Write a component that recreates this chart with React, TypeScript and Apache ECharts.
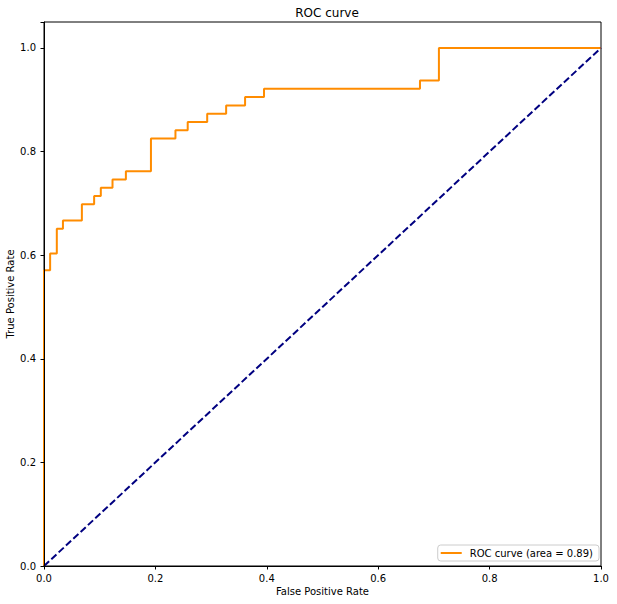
import React, { useEffect, useRef } from "react";
import * as echarts from "echarts";

const fpr = [0, 0, 0.011, 0.023, 0.034, 0.068, 0.09, 0.102, 0.123, 0.147, 0.192, 0.236, 0.258, 0.293, 0.327, 0.361, 0.395, 0.675, 0.709, 1.0];
const tpr = [0, 0.571, 0.603, 0.651, 0.667, 0.698, 0.714, 0.73, 0.746, 0.762, 0.825, 0.841, 0.857, 0.873, 0.889, 0.905, 0.921, 0.937, 1.0, 1.0];
const diagX = [0, 1];
const diagY = [0, 1];
const rocLabel = "ROC curve (area = 0.89)";
const titleText = "ROC curve";
const xName = "False Positive Rate";
const yName = "True Positive Rate";

const FONT = "DejaVu Sans";

export default function App() {
  const ref = useRef<HTMLDivElement>(null);
  useEffect(() => {
    if (!ref.current) return;
    const chart = echarts.init(ref.current, undefined, { renderer: "svg" });
    const axisCommon = {
      type: "value" as const,
      nameLocation: "middle" as const,
      nameMoveOverlap: false,
      nameTextStyle: { color: "#000", fontFamily: FONT, fontSize: 10 },
      z: 10,
      axisLine: { show: true, lineStyle: { color: "#000", width: 1 } },
      axisTick: { show: true, inside: false, length: 3.5, lineStyle: { color: "#000", width: 1 } },
      splitLine: { show: false },
      axisLabel: {
        color: "#000",
        fontFamily: FONT,
        fontSize: 10,
        margin: 7,
        formatter: (v: number) => (v > 1.001 ? "" : v.toFixed(1)),
      },
    };
    chart.setOption({
      animation: false,
      backgroundColor: "#fff",
      title: {
        text: titleText,
        left: 322,
        top: 2,
        textAlign: "center",
        textStyle: { fontFamily: FONT, fontSize: 12, fontWeight: "normal", color: "#000" },
      },
      grid: {
        left: 44,
        right: 16,
        top: 22,
        bottom: 38,
        containLabel: false,
        outerBoundsMode: "none",
        show: true,
        borderColor: "#000",
        borderWidth: 1,
        backgroundColor: "transparent",
      },
      xAxis: {
        ...axisCommon,
        min: 0,
        max: 1,
        interval: 0.2,
        name: xName,
        nameGap: 20,
      },
      yAxis: {
        ...axisCommon,
        min: 0,
        max: 1.05,
        interval: 0.2,
        name: yName,
        nameGap: 29,
        axisLabel: { ...axisCommon.axisLabel, margin: 8 },
      },
      legend: {
        data: [{ name: rocLabel, icon: "rect" }],
        right: 18,
        bottom: 43,
        orient: "vertical",
        backgroundColor: "#fff",
        borderColor: "#cccccc",
        borderWidth: 1,
        borderRadius: 3,
        padding: [3, 6, 3, 3],
        itemWidth: 21,
        itemHeight: 2,
        textStyle: { color: "#000", fontFamily: FONT, fontSize: 10, padding: [0, 0, 0, 3] },
      },
      series: [
        {
          name: rocLabel,
          type: "line",
          step: "end",
          data: fpr.map((x, i) => [x, tpr[i]]),
          showSymbol: false,
          symbol: "none",
          itemStyle: { color: "#ff8c00" },
          lineStyle: { color: "#ff8c00", width: 2 },
          z: 2,
        },
        {
          name: "diag",
          type: "line",
          data: diagX.map((x, i) => [x, diagY[i]]),
          showSymbol: false,
          symbol: "none",
          itemStyle: { color: "#000080" },
          lineStyle: { color: "#000080", width: 2, type: [7, 3] },
          z: 3,
        },
      ],
    });
    return () => chart.dispose();
  }, []);
  return <div ref={ref} style={{ width: 617, height: 604, position: "absolute", left: 0, top: 0 }} />;
}
